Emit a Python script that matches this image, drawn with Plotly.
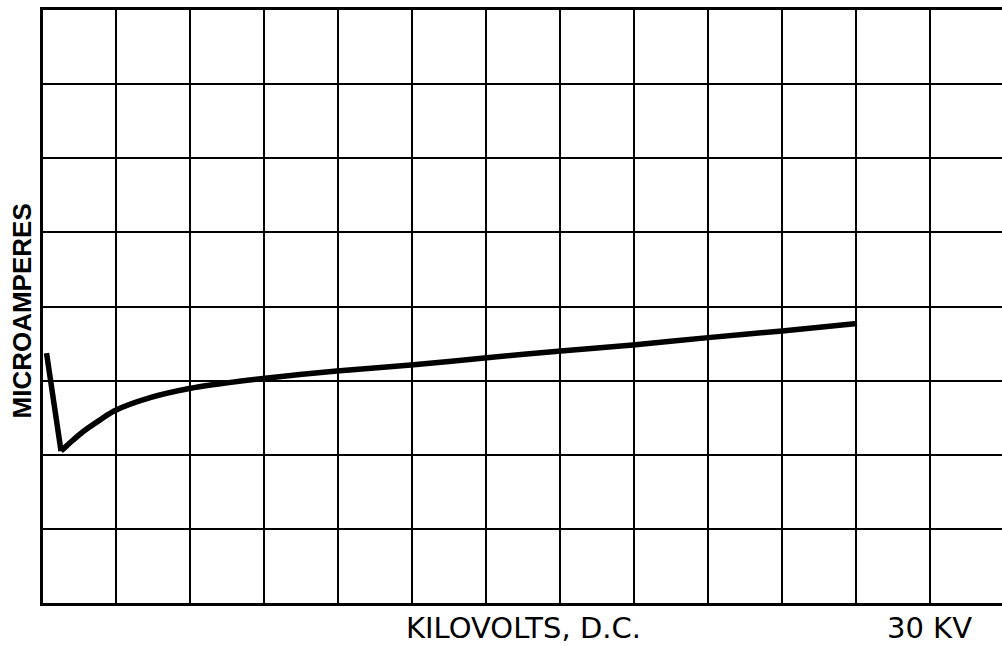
import plotly.graph_objects as go

# Current vs. applied D.C. voltage: initial drop, then the rising branch
drop_kv = [0.17, 0.66]
drop_ua = [3.37, 2.05]
rise_kv = [0.66, 0.96, 1.40, 1.98, 2.45, 3.67, 4.95, 6.27, 7.48,
           9.98, 12.48, 15.05, 17.55, 19.98, 22.52, 25.02, 27.55]
rise_ua = [2.05, 2.16, 2.31, 2.47, 2.59, 2.77, 2.89, 2.97, 3.03,
           3.13, 3.21, 3.31, 3.40, 3.48, 3.58, 3.67, 3.77]

x_title = "KILOVOLTS, D.C."
x_end_label = "30 KV"
x_end_value = 30
y_title = "MICROAMPERES"

W, H = 1002, 646
ML, MR, MT, MB = 43, 0, 10, 43
px_per_kv = 29.6
x0 = 1.5 / px_per_kv
x1 = x0 + (W - ML - MR) / px_per_kv

curve_line = dict(color="black", width=5.5)

fig = go.Figure()
fig.add_trace(go.Scatter(
    x=drop_kv, y=drop_ua, mode="lines", line=curve_line,
    hoverinfo="skip", showlegend=False,
))
fig.add_trace(go.Scatter(
    x=rise_kv, y=rise_ua, mode="lines",
    line=dict(curve_line, shape="spline", smoothing=0.8),
    hoverinfo="skip", showlegend=False,
))

label_font = dict(family="DejaVu Sans", size=29, color="black")

fig.update_layout(
    width=W, height=H,
    margin=dict(l=ML, r=MR, t=MT, b=MB, pad=0),
    paper_bgcolor="white", plot_bgcolor="white",
    xaxis=dict(
        range=[x0, x1], tick0=0, dtick=2.5,
        showgrid=True, gridcolor="black", gridwidth=1.8,
        showline=True, linecolor="black", linewidth=3, mirror=True,
        showticklabels=False, ticks="", zeroline=False,
    ),
    yaxis=dict(
        range=[0, 8], tick0=0, dtick=1,
        showgrid=True, gridcolor="black", gridwidth=1.8,
        showline=True, linecolor="black", linewidth=3, mirror=False,
        showticklabels=False, ticks="", zeroline=False,
    ),
    annotations=[
        dict(text=y_title, xref="paper", yref="paper", x=0, y=0.5,
             xanchor="center", yanchor="middle", xshift=-22, yshift=-5,
             textangle=-90, showarrow=False,
             font=dict(family="Liberation Sans", size=26, color="black",
                       weight="bold")),
        dict(text=x_title, xref="x", yref="paper", x=16.3, y=0,
             xanchor="center", yanchor="middle", yshift=-25,
             showarrow=False, font=label_font),
        dict(text=x_end_label, xref="x", yref="paper", x=x_end_value, y=0,
             xanchor="center", yanchor="middle", yshift=-25,
             showarrow=False, font=label_font),
    ],
)

fig.write_html("out.html")
